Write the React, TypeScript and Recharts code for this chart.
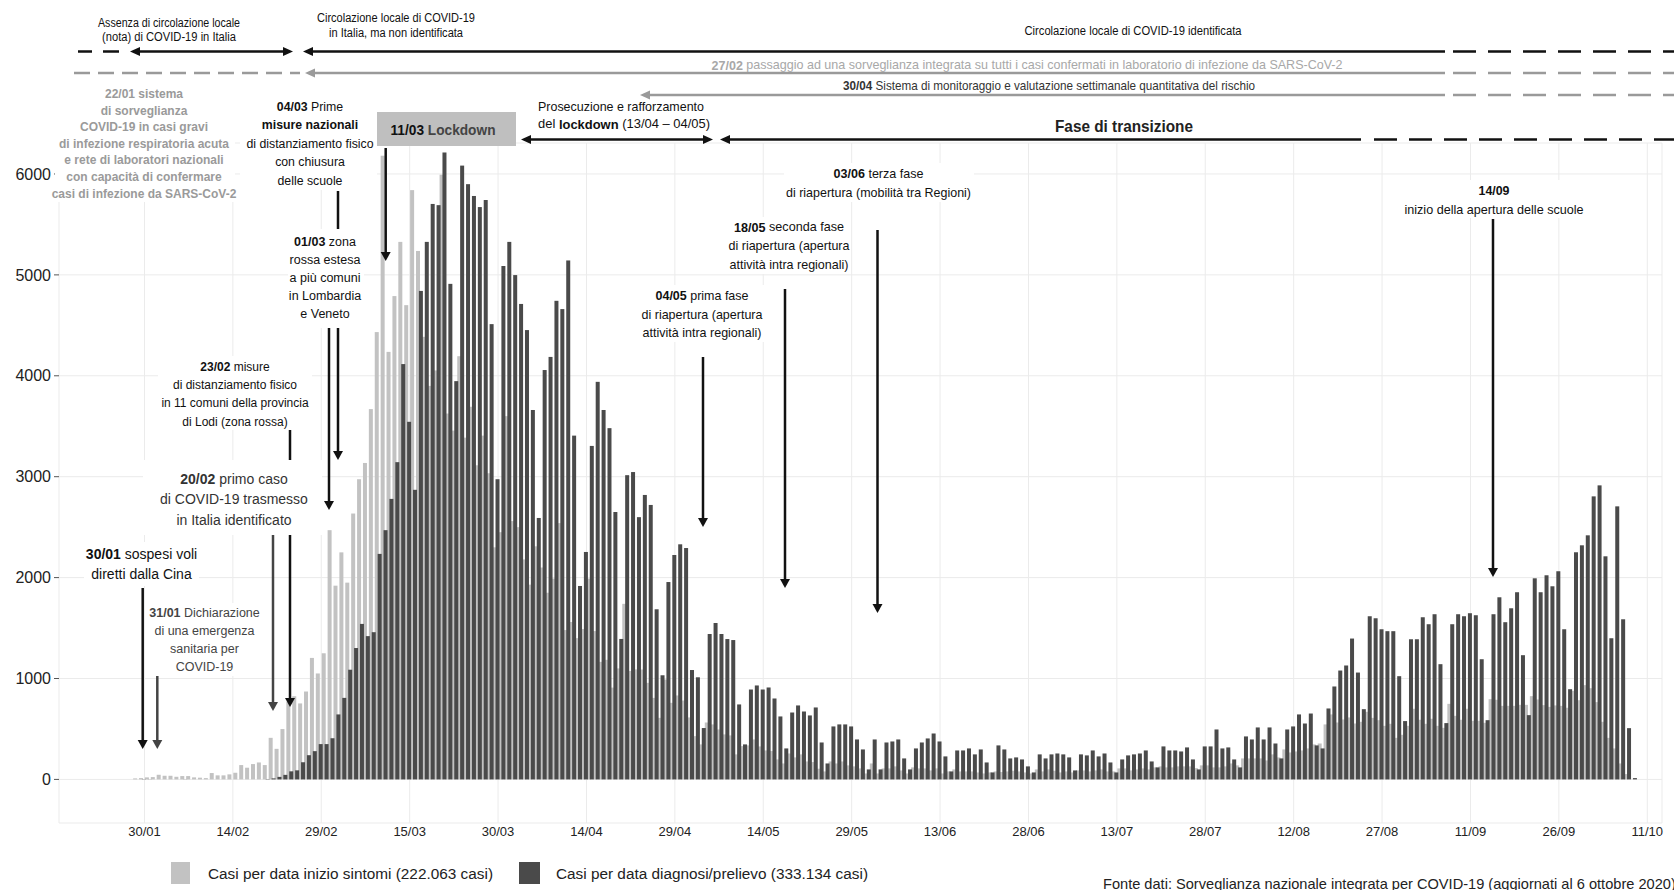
import React from 'react';
import { BarChart, Bar, XAxis, YAxis, CartesianGrid } from 'recharts';

const FONT = '"Liberation Sans", Arial, Helvetica, sans-serif';

// Casi per data inizio sintomi, giorno per giorno dal 16/01 al 13/10
const symptomsJan = [0, 0, 0, 0, 0, 0, 0, 0, 0, 0, 0, 0, 10, 13, 20, 23];
const symptomsFeb = [46, 36, 36, 26, 33, 33, 20, 17, 13, 63, 40, 40, 50, 66, 142, 116, 152, 168, 142, 412, 303, 499, 773, 824, 753, 871, 1204, 1050, 1250];
const symptomsMar = [2470, 1920, 2250, 1950, 2635, 2975, 3136, 3670, 4433, 6181, 4237, 4790, 5327, 4700, 5840, 5237, 4386, 3900, 4053, 5993, 3626, 3457, 4194, 3387, 3693, 3113, 3407, 3034, 2300, 2450, 3600];
const symptomsApr = [2560, 2500, 2180, 1930, 2310, 2100, 1850, 1990, 2540, 1480, 1560, 1400, 1490, 1990, 1470, 1165, 1185, 910, 1100, 1740, 1075, 1090, 1089, 957, 808, 610, 990, 759, 832, 782];
const symptomsMay = [614, 429, 347, 564, 545, 495, 446, 436, 248, 330, 337, 396, 327, 287, 281, 198, 158, 257, 218, 248, 178, 172, 106, 79, 178, 158, 178, 139, 129, 109, 59];
const symptomsJun = [158, 59, 109, 109, 129, 89, 59, 119, 109, 109, 89, 109, 59, 79, 99, 79, 79, 79, 69, 59, 69, 79, 73, 79, 86, 79, 69, 59, 99, 79];
const symptomsJul = [99, 86, 69, 79, 69, 89, 89, 79, 89, 99, 79, 79, 109, 109, 89, 99, 109, 99, 119, 129, 119, 119, 129, 129, 129, 112, 139, 139, 119, 119, 129];
const symptomsAug = [158, 139, 208, 208, 208, 208, 188, 248, 218, 297, 267, 277, 287, 307, 347, 356, 545, 644, 564, 594, 614, 554, 571, 670, 610, 587, 531, 551, 412, 442, 531];
const symptomsSep = [700, 591, 551, 601, 531, 511, 749, 630, 591, 700, 581, 581, 561, 795, 789, 729, 729, 729, 739, 739, 825, 792, 736, 719, 733, 729, 710, 878, 785, 934];
const symptomsOct = [904, 766, 571, 412, 307, 158, 53, 0, 0, 0, 0, 0, 0];

// Casi per data diagnosi/prelievo
const diagnosisJan = [0, 0, 0, 0, 0, 0, 0, 0, 0, 0, 0, 0, 0, 0, 2, 1];
const diagnosisFeb = [0, 0, 0, 0, 0, 1, 0, 0, 0, 0, 0, 0, 0, 0, 0, 0, 0, 0, 0, 3, 10, 25, 45, 80, 90, 170, 240, 280, 350];
const diagnosisMar = [350, 408, 644, 808, 1087, 1302, 1541, 1420, 1459, 2235, 2470, 2780, 3144, 4116, 3544, 2870, 4841, 5327, 5703, 5691, 6213, 4911, 3947, 6083, 5899, 5782, 5672, 5742, 4512, 2975, 5088];
const diagnosisApr = [5327, 4998, 4712, 4453, 3661, 2591, 4057, 4187, 4743, 4661, 5143, 3407, 1917, 2254, 3305, 3940, 3661, 3481, 2650, 1392, 3015, 3046, 2599, 2819, 2720, 1686, 1032, 1956, 2224, 2330];
const diagnosisMay = [2293, 1084, 1012, 509, 1441, 1550, 1441, 1391, 1381, 743, 347, 891, 931, 891, 911, 802, 624, 307, 663, 733, 673, 634, 713, 366, 158, 525, 545, 545, 525, 396, 297];
const diagnosisJun = [99, 396, 99, 366, 376, 396, 208, 99, 307, 366, 406, 455, 376, 228, 79, 287, 287, 307, 248, 297, 168, 69, 337, 297, 208, 218, 198, 129, 69, 248];
const diagnosisJul = [208, 248, 257, 248, 218, 89, 248, 238, 287, 228, 257, 168, 69, 198, 238, 248, 257, 287, 178, 119, 327, 287, 287, 277, 317, 198, 99, 327, 327, 495, 307];
const diagnosisAug = [317, 198, 119, 426, 396, 515, 396, 515, 356, 208, 495, 525, 644, 554, 653, 337, 307, 703, 921, 1079, 1129, 1396, 1059, 696, 1617, 1597, 1488, 1469, 1469, 1023, 578];
const diagnosisSep = [1389, 1389, 1607, 1538, 1637, 1142, 558, 1538, 1637, 1617, 1647, 1627, 1191, 587, 1637, 1805, 1558, 1696, 1855, 1231, 637, 1993, 1855, 2023, 1914, 2063, 1488, 894, 2251, 2320];
const diagnosisOct = [2419, 2805, 2914, 2211, 1399, 2706, 1587, 508, 13, 0, 0, 0, 0];

const tickDates = ['30/01', '14/02', '29/02', '15/03', '30/03', '14/04', '29/04', '14/05', '29/05', '13/06', '28/06', '13/07', '28/07', '12/08', '27/08', '11/09', '26/09', '11/10'];
const yTicks = [0, 1000, 2000, 3000, 4000, 5000, 6000];

const symptoms = [...symptomsJan, ...symptomsFeb, ...symptomsMar, ...symptomsApr, ...symptomsMay, ...symptomsJun, ...symptomsJul, ...symptomsAug, ...symptomsSep, ...symptomsOct];
const diagnosis = [...diagnosisJan, ...diagnosisFeb, ...diagnosisMar, ...diagnosisApr, ...diagnosisMay, ...diagnosisJun, ...diagnosisJul, ...diagnosisAug, ...diagnosisSep, ...diagnosisOct];

const pad = (n: number) => (n < 10 ? '0' + n : '' + n);
const data = symptoms.map((s, i) => {
  const d = new Date(2020, 0, 16 + i);
  return { date: `${pad(d.getDate())}/${pad(d.getMonth() + 1)}`, sintomi: s, diagnosi: diagnosis[i] };
});

const LIGHT = '#c2c2c2';
const DARK = '#4a4a4a';

// light bars sit behind, slightly to the right of the dark ones
const LightBar = (p: any) => (p.height > 0 ? <rect x={p.x + 2.4} y={p.y} width={p.width} height={p.height} fill={LIGHT} /> : null);
const DarkBar = (p: any) => (p.height > 0 ? <rect x={p.x - 0.6} y={p.y} width={p.width} height={p.height} fill={DARK} /> : null);

const T = ({ x, y, size = 12.5, fill = '#111', anchor = 'middle', width, weight, children }: any) => (
  <text
    x={x}
    y={y}
    fontSize={size}
    fill={fill}
    textAnchor={anchor}
    fontWeight={weight}
    dominantBaseline="central"
    textLength={width}
    lengthAdjust={width ? 'spacingAndGlyphs' : undefined}
  >
    {children}
  </text>
);

const B = ({ children }: any) => <tspan fontWeight={700}>{children}</tspan>;

const VArrow = ({ x, y1, y2, color = '#111' }: any) => (
  <g>
    <line x1={x} y1={y1} x2={x} y2={y2 - 8} stroke={color} strokeWidth={2.5} />
    <polygon points={`${x - 5},${y2 - 9} ${x + 5},${y2 - 9} ${x},${y2}`} fill={color} />
  </g>
);

const headL = (x: number, y: number, c: string) => <polygon points={`${x},${y} ${x + 10},${y - 4.5} ${x + 10},${y + 4.5}`} fill={c} />;
const headR = (x: number, y: number, c: string) => <polygon points={`${x},${y} ${x - 10},${y - 4.5} ${x - 10},${y + 4.5}`} fill={c} />;
const HLine = ({ x1, x2, y, c, dash }: any) => <line x1={x1} x2={x2} y1={y} y2={y} stroke={c} strokeWidth={2.5} strokeDasharray={dash} />;

const BLK = '#111';
const GRY = '#9a9a9a';

const Annotations = () => (
  <svg width={1674} height={890} style={{ position: 'absolute', left: 0, top: 0, pointerEvents: 'none' }} fontFamily={FONT}>
    {/* timeline rows */}
    <HLine x1={78} x2={92} y={51.5} c={BLK} />
    <HLine x1={103} x2={119} y={51.5} c={BLK} />
    <HLine x1={138} x2={285} y={51.5} c={BLK} />
    {headL(130, 51.5, BLK)}
    {headR(293, 51.5, BLK)}
    <HLine x1={311} x2={1445} y={51.5} c={BLK} />
    {headL(303, 51.5, BLK)}
    <HLine x1={1453} x2={1674} y={51.5} c={BLK} dash="23 12" />

    <HLine x1={74} x2={300} y={73} c={GRY} dash="16 8" />
    <HLine x1={313} x2={1445} y={73} c={GRY} />
    {headL(305, 73, GRY)}
    <HLine x1={1453} x2={1674} y={73} c={GRY} dash="23 12" />

    <HLine x1={648} x2={1445} y={95} c={GRY} />
    {headL(640, 95, GRY)}
    <HLine x1={1453} x2={1674} y={95} c={GRY} dash="23 12" />

    <HLine x1={529} x2={705} y={139.5} c={BLK} />
    {headL(521, 139.5, BLK)}
    {headR(713, 139.5, BLK)}
    <HLine x1={728} x2={1361} y={139.5} c={BLK} />
    {headL(720, 139.5, BLK)}
    <HLine x1={1374} x2={1674} y={139.5} c={BLK} dash="23 12" />

    <T x={169} y={22.5} size={12} width={142}>Assenza di circolazione locale</T>
    <T x={169} y={37} size={12} width={134}>(nota) di COVID-19 in Italia</T>
    <T x={396} y={18} size={12} width={158}>Circolazione locale di COVID-19</T>
    <T x={396} y={33} size={12} width={134}>in Italia, ma non identificata</T>
    <T x={1133} y={31} size={12} width={217}>Circolazione locale di COVID-19 identificata</T>
    <T x={1027} y={64.5} size={13} width={631} fill="#a8a8a8"><B>27/02</B> passaggio ad una sorveglianza integrata su tutti i casi confermati in laboratorio di infezione da SARS-CoV-2</T>
    <T x={1049} y={85} size={13} width={412} fill="#333"><B>30/04</B> Sistema di monitoraggio e valutazione settimanale quantitativa del rischio</T>
    <T x={621} y={106} size={13.5} width={166}>Prosecuzione e rafforzamento</T>
    <T x={624} y={123.5} size={13.5} width={172}>del <B>lockdown</B> (13/04 – 04/05)</T>
    <T x={1124} y={126.5} size={17} width={138} weight={700} fill="#222">Fase di transizione</T>

    <rect x={372} y={112} width={144} height={34} fill="#bfbfbf" />
    <T x={443} y={129} size={15} width={105} weight={700} fill="#111">11/03 <tspan fill="#444">Lockdown</tspan></T>

    {/* arrows in the plot */}
    <VArrow x={142.7} y1={588} y2={749} />
    <VArrow x={157.3} y1={654} y2={749} color="#444" />
    <VArrow x={273} y1={535} y2={711} color="#444" />
    <VArrow x={290} y1={430} y2={707} />
    <VArrow x={329} y1={328} y2={510} />
    <VArrow x={338} y1={191} y2={460} />
    <VArrow x={385.7} y1={148} y2={261} />
    <VArrow x={703} y1={357} y2={527} />
    <VArrow x={785} y1={289} y2={588} />
    <VArrow x={877.5} y1={230} y2={613} />
    <VArrow x={1493} y1={219} y2={577} />

    {/* white backgrounds of the notes */}
    <rect x={55} y={85} width={180} height={117} fill="#fff" />
    <rect x={240} y={98} width={137} height={92} fill="#fff" />
    <rect x={288} y={229} width={76} height={99} fill="#fff" />
    <rect x={158} y={356} width={154} height={74} fill="#fff" />
    <rect x={143} y={460} width={179} height={75} fill="#fff" />
    <rect x={84} y={542} width={115} height={44} fill="#fff" />
    <rect x={147} y={603} width={115} height={73} fill="#fff" />
    <rect x={640} y={285} width={125} height={57} fill="#fff" />
    <rect x={726} y={217} width={125} height={57} fill="#fff" />
    <rect x={784} y={163} width={190} height={39} fill="#fff" />
    <rect x={1402} y={180} width={184} height={38} fill="#fff" />

    <g fontWeight={700} fill="#9a9a9a">
      <T x={144} y={93.9} size={12} fill="#9a9a9a" weight={700}>22/01 sistema</T>
      <T x={144} y={110.5} size={12} fill="#9a9a9a" weight={700}>di sorveglianza</T>
      <T x={144} y={127.1} size={12} fill="#9a9a9a" weight={700}>COVID-19 in casi gravi</T>
      <T x={144} y={143.7} size={12} fill="#9a9a9a" weight={700}>di infezione respiratoria acuta</T>
      <T x={144} y={160.3} size={12} fill="#9a9a9a" weight={700}>e rete di laboratori nazionali</T>
      <T x={144} y={176.9} size={12} fill="#9a9a9a" weight={700}>con capacità di confermare</T>
      <T x={144} y={193.5} size={12} fill="#9a9a9a" weight={700}>casi di infezione da SARS-CoV-2</T>
    </g>

    <T x={310} y={107} size={12.3}><B>04/03</B> Prime</T>
    <T x={310} y={125} size={12.3}><B>misure nazionali</B></T>
    <T x={310} y={143.5} size={12.3}>di distanziamento fisico</T>
    <T x={310} y={162} size={12.3}>con chiusura</T>
    <T x={310} y={181} size={12.3}>delle scuole</T>

    <T x={325} y={241.5} size={12.5}><B>01/03</B> zona</T>
    <T x={325} y={259.7} size={12.5}>rossa estesa</T>
    <T x={325} y={277.5} size={12.5}>a più comuni</T>
    <T x={325} y={296} size={12.5}>in Lombardia</T>
    <T x={325} y={314} size={12.5}>e Veneto</T>

    <T x={235} y={366.5} size={12}><B>23/02</B> misure</T>
    <T x={235} y={385} size={12}>di distanziamento fisico</T>
    <T x={235} y={403} size={12}>in 11 comuni della provincia</T>
    <T x={235} y={422} size={12}>di Lodi (zona rossa)</T>

    <T x={234} y={479} size={14} fill="#333"><B>20/02</B> primo caso</T>
    <T x={234} y={499} size={14} fill="#333">di COVID-19 trasmesso</T>
    <T x={234} y={519.5} size={14} fill="#333">in Italia identificato</T>

    <T x={141.5} y={554} size={14}><B>30/01</B> sospesi voli</T>
    <T x={141.5} y={574} size={14}>diretti dalla Cina</T>

    <T x={204.5} y={613} size={12.5} fill="#444"><B>31/01</B> Dichiarazione</T>
    <T x={204.5} y={631} size={12.5} fill="#444">di una emergenza</T>
    <T x={204.5} y={649} size={12.5} fill="#444">sanitaria per</T>
    <T x={204.5} y={667} size={12.5} fill="#444">COVID-19</T>

    <T x={702} y={295} size={13} width={93}><B>04/05</B> prima fase</T>
    <T x={702} y={314} size={13} width={121}>di riapertura (apertura</T>
    <T x={702} y={332} size={13} width={119}>attività intra regionali)</T>

    <T x={789} y={226.7} size={13} width={110}><B>18/05</B> seconda fase</T>
    <T x={789} y={245.3} size={13} width={121}>di riapertura (apertura</T>
    <T x={789} y={264} size={13} width={119}>attività intra regionali)</T>

    <T x={878.5} y={173.3} size={13} width={90}><B>03/06</B> terza fase</T>
    <T x={878.5} y={192.3} size={13} width={185}>di riapertura (mobilità tra Regioni)</T>

    <T x={1494} y={190} size={13} width={31} weight={700}>14/09</T>
    <T x={1494} y={209} size={13} width={179}>inizio della apertura delle scuole</T>

    {/* legend and source */}
    <rect x={171} y={862} width={19} height={22} fill={LIGHT} />
    <T x={208} y={873} size={15.5} anchor="start" width={285} fill="#222">Casi per data inizio sintomi (222.063 casi)</T>
    <rect x={519} y={862} width={21} height={22} fill={DARK} />
    <T x={556} y={873} size={15.5} anchor="start" width={312} fill="#222">Casi per data diagnosi/prelievo (333.134 casi)</T>
    <T x={1103} y={884} size={14.6} anchor="start" fill="#222">Fonte dati: Sorveglianza nazionale integrata per COVID-19 (aggiornati al 6 ottobre 2020)</T>
  </svg>
);

export default function App() {
  return (
    <div style={{ position: 'absolute', left: 0, top: 0, width: 1674, height: 890, background: '#fff', overflow: 'hidden', fontFamily: FONT }}>
      <div style={{ position: 'absolute', left: 0, top: 0 }}>
        <BarChart width={1674} height={890} data={data} margin={{ top: 143, right: 12, bottom: 0, left: 0 }} barGap={-4}>
          <CartesianGrid stroke="#ebebeb" strokeWidth={1} />
          <XAxis
            dataKey="date"
            ticks={tickDates}
            interval={0}
            tickLine={false}
            axisLine={false}
            height={67}
            tickSize={3}
            tickMargin={1}
            tick={{ fontSize: 13, fill: '#222', fontFamily: FONT }}
          />
          <YAxis
            type="number"
            domain={[-432, 6307]}
            ticks={yTicks}
            allowDataOverflow
            width={59}
            axisLine={false}
            tickLine={{ stroke: '#555' }}
            tickSize={5}
            tickMargin={3}
            tick={{ fontSize: 16, fill: '#222', fontFamily: FONT }}
          />
          <Bar dataKey="sintomi" fill={LIGHT} barSize={4} shape={LightBar} isAnimationActive={false} />
          <Bar dataKey="diagnosi" fill={DARK} barSize={4} shape={DarkBar} isAnimationActive={false} />
        </BarChart>
      </div>
      <Annotations />
    </div>
  );
}
